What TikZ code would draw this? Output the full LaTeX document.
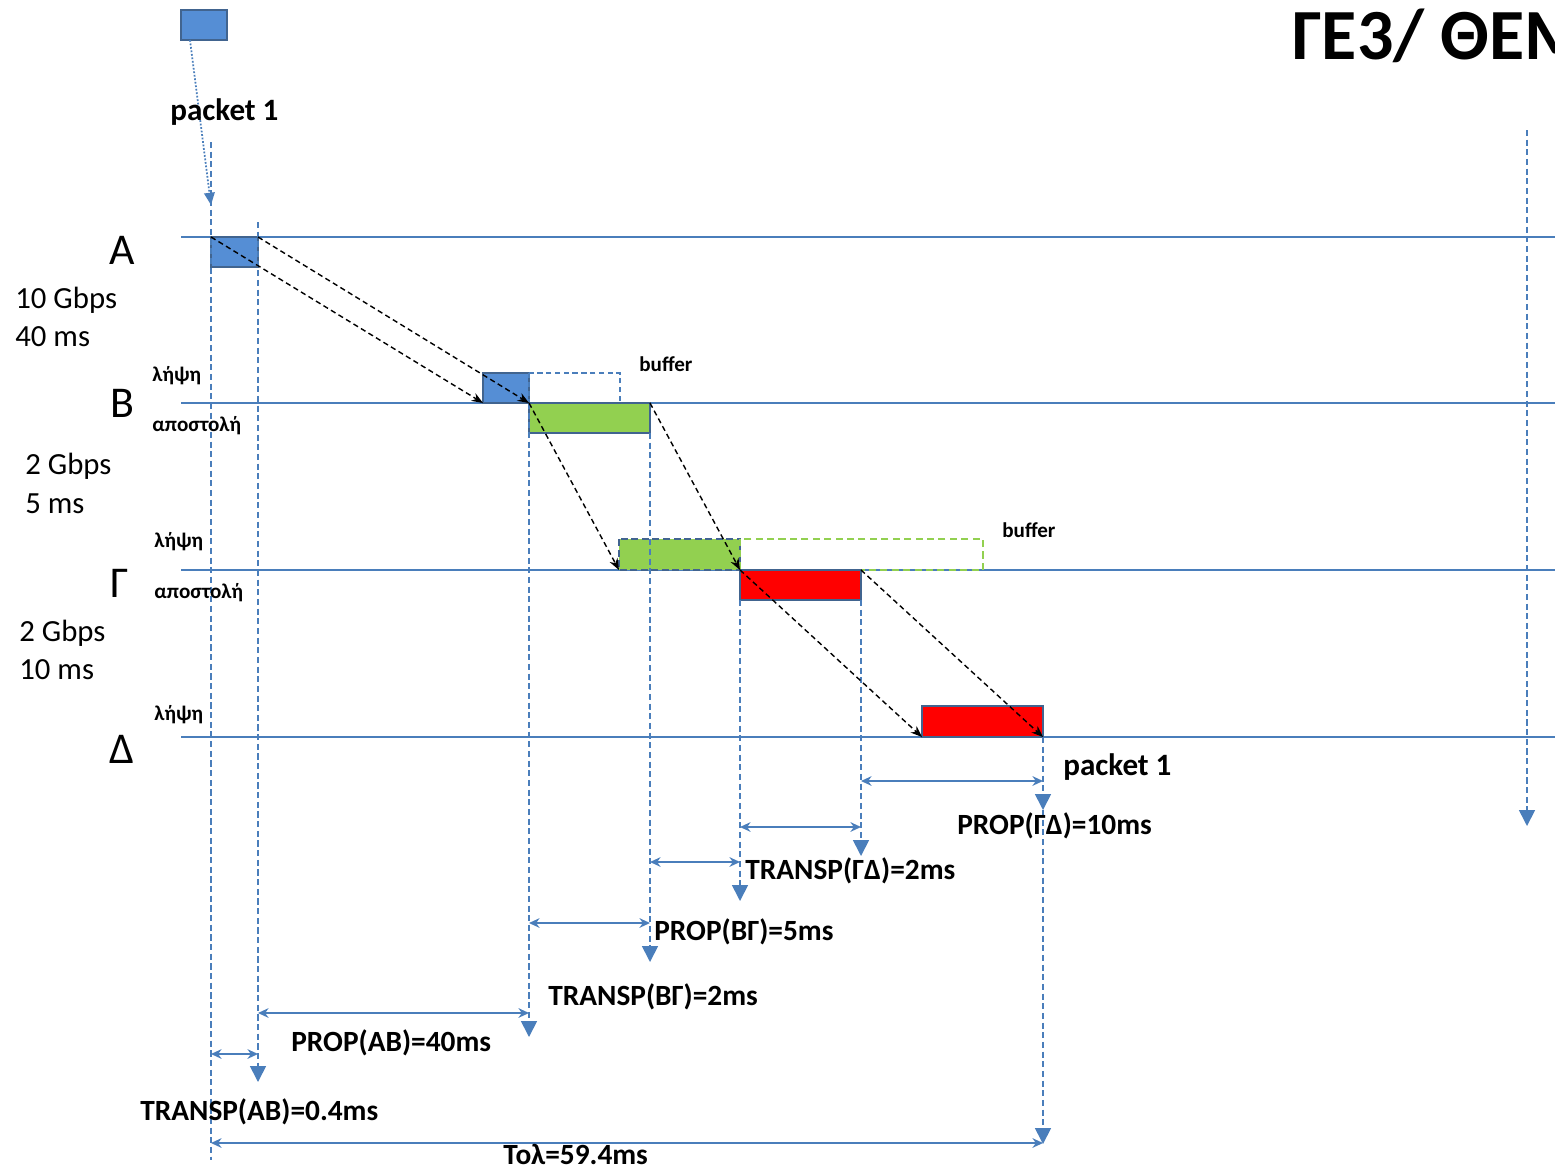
\documentclass[tikz,border=0pt]{standalone}
\usepackage{fontspec}
\setmainfont{Carlito}
\usetikzlibrary{arrows.meta}
\definecolor{lblue}{HTML}{4A7EBB}
\definecolor{fblue}{HTML}{558ED5}
\definecolor{bord}{HTML}{41648F}
\definecolor{fgreen}{HTML}{92D050}
\definecolor{fred}{HTML}{FF0000}
\tikzset{
 hline/.style={lblue, line width=1.1pt},
 vline/.style={lblue, line width=0.95pt, dash pattern=on 3.5pt off 2pt},
 vtip/.style={-{Triangle[width=9pt,length=9pt]}},
 dim/.style={lblue, line width=1pt, {Stealth[length=6pt,width=5.5pt]}-{Stealth[length=6pt,width=5.5pt]}},
 flow/.style={black, line width=0.8pt, dash pattern=on 3pt off 2pt, -{Stealth[length=6.5pt,width=5pt]}},
 pkt/.style={draw=bord, line width=1pt},
 big/.style={font=\fontsize{25}{30}\selectfont, anchor=base, inner sep=0pt},
 rate/.style={font=\fontsize{17.5}{21}\selectfont, anchor=base west, inner sep=0pt},
 small/.style={font=\bfseries\fontsize{12}{14}\selectfont, anchor=base west, inner sep=0pt},
 lab/.style={font=\bfseries\fontsize{16.7}{20}\selectfont, anchor=base west, inner sep=0pt},
}
\begin{document}
\begin{tikzpicture}[x=0.02cm,y=-0.02cm]
\useasboundingbox (0,0) rectangle (1555,1170);
\clip (0,0) rectangle (1555,1170);

% title
\node[anchor=base west, inner sep=0pt, font=\bfseries\fontsize{41}{48}\selectfont] (title) at (1292,59) {ΓΕ3/ ΘΕΜ};

% key coordinates
\coordinate (p0) at (190,40);
\coordinate (pin) at (211,205);
\coordinate (a1) at (211,237);
\coordinate (a2) at (258,237);
\coordinate (b0) at (483,403);
\coordinate (b1) at (529,403);
\coordinate (b2) at (650,403);
\coordinate (g0) at (619,570);
\coordinate (g1) at (740,570);
\coordinate (g2) at (861,570);
\coordinate (d0) at (922,737);
\coordinate (d1) at (1043,737);

% horizontal node lines
\coordinate (Al) at (181,237); \coordinate (Ar) at (1555,237);
\coordinate (Bl) at (181,403); \coordinate (Br) at (1555,403);
\coordinate (Gl) at (181,570); \coordinate (Gr) at (1555,570);
\coordinate (Dl) at (181,737); \coordinate (Dr) at (1555,737);
\draw[hline] (Al) -- (Ar);
\draw[hline] (Bl) -- (Br);
\draw[hline] (Gl) -- (Gr);
\draw[hline, line width=1.6pt] (Dl) -- (Dr);

% packets
\draw[pkt, fill=fblue] (181,10) rectangle (227,40);
\draw[pkt, fill=fblue] (a1) rectangle (258,267);
\draw[pkt, fill=fblue] (483,373) rectangle (b1);
\draw[lblue, line width=0.9pt, dash pattern=on 3pt off 2pt] (529,373) rectangle (620,403);
\draw[pkt, fill=fgreen] (b1) rectangle (650,433);
\draw[draw=bord, line width=1pt, dash pattern=on 4pt off 2pt, fill=fgreen] (619,539) rectangle (g1);
\draw[fgreen, line width=0.9pt, dash pattern=on 4pt off 2.5pt] (740,539) rectangle (983,570);
\draw[pkt, fill=fred] (g1) rectangle (861,600);
\draw[pkt, fill=fred] (922,706) rectangle (d1);

% dotted arrow from source packet
\draw[lblue, line width=1pt, dash pattern=on 1pt off 1pt, -{Triangle[width=6pt,length=7pt]}] (p0) -- (pin);

% vertical dashed lines
\coordinate (v1t) at (211,142); \coordinate (v1b) at (211,1160);
\draw[vline] (v1t) -- (v1b);
\coordinate (v2t) at (258,222); \coordinate (v2b) at (258,1082);
\draw[vline, vtip] (v2t) -- (v2b);
\coordinate (v3t) at (529,403); \coordinate (v3b) at (529,1037);
\draw[vline, vtip] (v3t) -- (v3b);
\coordinate (v4t) at (650,433); \coordinate (v4b) at (650,962);
\draw[vline, vtip] (v4t) -- (v4b);
\coordinate (v5t) at (740,600); \coordinate (v5b) at (740,901);
\draw[vline, vtip] (v5t) -- (v5b);
\coordinate (v6t) at (861,600); \coordinate (v6b) at (861,856);
\draw[vline, vtip] (v6t) -- (v6b);
\coordinate (v7m) at (1043,810); \coordinate (v7b) at (1043,1144);
\draw[vline, vtip] (d1) -- (v7m);
\draw[vline, vtip] (v7m) -- (v7b);
\coordinate (v8t) at (1527,130); \coordinate (v8b) at (1527,826);
\draw[vline, vtip] (v8t) -- (v8b);

% packet flow arrows
\draw[flow] (a1) -- (b0);
\draw[flow] (a2) -- (b1);
\draw[flow] (b1) -- (g0);
\draw[flow] (b2) -- (g1);
\draw[flow] (g1) -- (d0);
\draw[flow] (g2) -- (d1);

% dimension arrows
\coordinate (h1a) at (211,1054); \coordinate (h1b) at (258,1054);
\draw[dim] (h1a) -- (h1b);
\coordinate (h2a) at (258,1013); \coordinate (h2b) at (529,1013);
\draw[dim] (h2a) -- (h2b);
\coordinate (h3a) at (529,923); \coordinate (h3b) at (650,923);
\draw[dim] (h3a) -- (h3b);
\coordinate (h4a) at (650,862); \coordinate (h4b) at (740,862);
\draw[dim] (h4a) -- (h4b);
\coordinate (h5a) at (740,827); \coordinate (h5b) at (861,827);
\draw[dim] (h5a) -- (h5b);
\coordinate (h6a) at (861,781); \coordinate (h6b) at (1043,781);
\draw[dim] (h6a) -- (h6b);
\coordinate (h7a) at (211,1143); \coordinate (h7b) at (1043,1143);
\draw[dim] (h7a) -- (h7b);

% node labels
\node[big] (nA) at (122,264) {Α};
\node[big] (nB) at (122,417) {Β};
\node[big] (nG) at (120,597) {Γ};
\node[big] (nD) at (122,763) {Δ};

\node[rate] (r1) at (15,308) {10 Gbps};
\node[rate] (r2) at (15,346) {40 ms};
\node[rate] (r3) at (25,474) {2 Gbps};
\node[rate] (r4) at (25,513) {5 ms};
\node[rate] (r5) at (19,641) {2 Gbps};
\node[rate] (r6) at (19,679) {10 ms};

\node[small] (sB1) at (152,381) {λήψη};
\node[small] (sB2) at (152,431) {αποστολή};
\node[small] (sG1) at (154,547) {λήψη};
\node[small] (sG2) at (154,598) {αποστολή};
\node[small] (sD1) at (154,720) {λήψη};
\node[small] (buf1) at (639,371) {buffer};
\node[small] (buf2) at (1002,537) {buffer};

\node[lab, font=\bfseries\fontsize{17.7}{21}\selectfont] (pk1) at (170,120) {packet 1};
\node[lab, font=\bfseries\fontsize{17.7}{21}\selectfont] (pk2) at (1063,775) {packet 1};

\node[lab] (l1) at (957,834) {PROP(ΓΔ)=10ms};
\node[lab] (l2) at (745,879) {TRANSP(ΓΔ)=2ms};
\node[lab] (l3) at (654,940) {PROP(ΒΓ)=5ms};
\node[lab] (l4) at (548,1005) {TRANSP(ΒΓ)=2ms};
\node[lab] (l5) at (291,1051) {PROP(AB)=40ms};
\node[lab] (l6) at (140,1120) {TRANSP(AB)=0.4ms};
\node[lab] (l7) at (503,1164) {Τολ=59.4ms};
\end{tikzpicture}
\end{document}
